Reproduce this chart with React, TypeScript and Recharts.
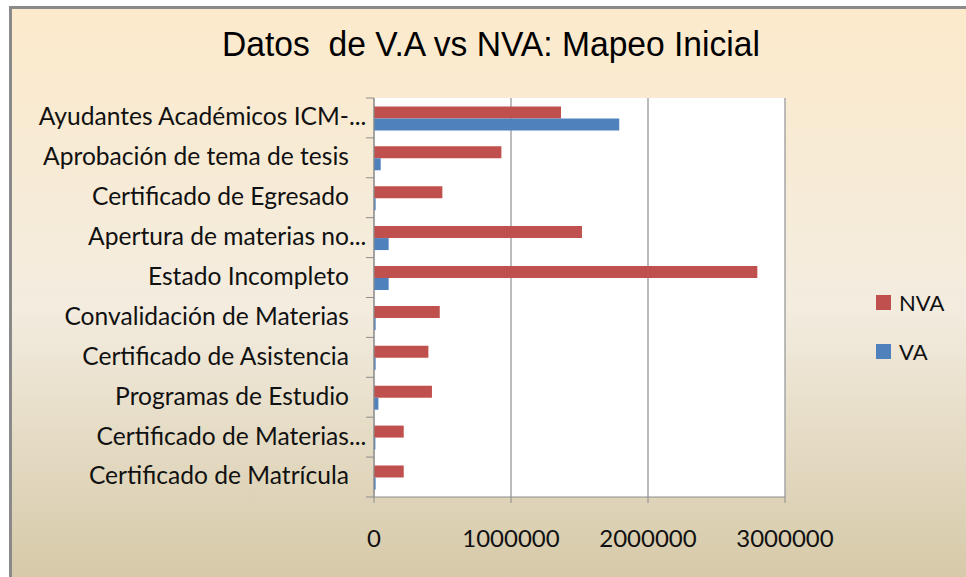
import { BarChart, Bar, XAxis, YAxis, CartesianGrid } from 'recharts';

const categories = [
  'Ayudantes Académicos ICM-...',
  'Aprobación de tema de tesis',
  'Certificado de Egresado',
  'Apertura de materias no...',
  'Estado Incompleto',
  'Convalidación de Materias',
  'Certificado de Asistencia',
  'Programas de Estudio',
  'Certificado de Materias...',
  'Certificado de Matrícula'
];
const nva = [1365000, 930000, 499000, 1518000, 2798000, 480000, 397000, 423000, 217000, 217000];
const va = [1790000, 49000, 12000, 107000, 107000, 12000, 12000, 32000, 10000, 12000];
const xTicks = [0, 1000000, 2000000, 3000000];
const seriesNames = ['NVA', 'VA'];

const W = 966;
const H = 577;
const MARGIN = { top: 98, right: 181, left: 0, bottom: 0 };
const Y_AXIS_W = 374;
const X_AXIS_H = 80;
const BAND = (H - MARGIN.top - X_AXIS_H) / categories.length;
const FONT = 'Lato, "Open Sans", sans-serif';
const COLORS = ['#C0504D', '#4F81BD'];
const AXIS_COLOR = '#8c8c8c';

const rows = categories.map((name, i) => ({ name, NVA: nva[i], VA: va[i] }));

function CategoryTick(props: any) {
  const { x, y, payload, index, visibleTicksCount } = props;
  const label: string = payload.value;
  const cut = label.endsWith('...');
  const main = cut ? label.slice(0, -3) : label;
  const half = BAND / 2;
  const ax = x + 25;
  return (
    <g>
      <line x1={ax - 8} x2={ax} y1={y - half} y2={y - half} stroke={AXIS_COLOR} />
      {index === visibleTicksCount - 1 && (
        <line x1={ax - 8} x2={ax} y1={y + half} y2={y + half} stroke={AXIS_COLOR} />
      )}
      <text x={x} y={y} dy="0.3em" textAnchor="end" fontSize={24.6} fontFamily={FONT} fill="#111">
        {main}
      </text>
      {cut && (
        <text x={x} y={y} dy="0.3em" textAnchor="start" fontSize={24.6} fontFamily={FONT} fill="#111">
          ...
        </text>
      )}
    </g>
  );
}

function LegendBox() {
  return (
    <div style={{ position: 'absolute', left: 876, top: 278, fontFamily: FONT, fontSize: 22, color: '#111' }}>
      {seriesNames.map((label, i) => (
        <div key={label} style={{ display: 'flex', alignItems: 'center', height: 49 }}>
          <span style={{ width: 15, height: 15, background: COLORS[i], marginRight: 8, display: 'inline-block' }} />
          {label}
        </div>
      ))}
    </div>
  );
}

export default function App() {
  return (
    <div style={{ position: 'absolute', left: 0, top: 0, width: W, height: H, overflow: 'hidden', background: '#fff' }}>
      <div
        style={{
          position: 'absolute',
          left: 9,
          top: 6,
          width: W + 20,
          height: H + 20,
          borderLeft: '3px solid #8a8a8a',
          borderTop: '3px solid #8a8a8a',
          background: 'linear-gradient(#FCEACB 0%, #F3ECDF 50%, #D3C6A3 100%)'
        }}
      />
      <div
        style={{
          position: 'absolute',
          left: 0,
          width: 982,
          top: 24,
          textAlign: 'center',
          fontFamily: '"Liberation Sans", Arial, sans-serif',
          fontSize: 35,
          color: '#000',
          transform: 'scaleX(0.96)'
        }}
      >
        Datos&nbsp; de V.A vs NVA: Mapeo Inicial
      </div>
      <div style={{ position: 'absolute', left: 0, top: 0 }}>
        <BarChart
          width={W}
          height={H}
          data={rows}
          layout="vertical"
          margin={MARGIN}
          barCategoryGap="21%"
          barGap={0}
        >
          <CartesianGrid horizontal={false} stroke="#a6a6a6" strokeWidth={1.5} fill="#ffffff" />
          <XAxis
            type="number"
            domain={[0, 3000000]}
            ticks={xTicks}
            height={X_AXIS_H}
            tickSize={6}
            tickMargin={27}
            stroke={AXIS_COLOR}
            tick={{ fontSize: 24, fontFamily: FONT, fill: '#111' }}
            interval={0}
          />
          <YAxis
            type="category"
            dataKey="name"
            width={Y_AXIS_W}
            tickLine={false}
            tickSize={8}
            tickMargin={17}
            stroke={AXIS_COLOR}
            tick={<CategoryTick />}
            interval={0}
          />
          <Bar dataKey="NVA" fill={COLORS[0]} isAnimationActive={false} />
          <Bar dataKey="VA" fill={COLORS[1]} isAnimationActive={false} />
        </BarChart>
      </div>
      <LegendBox />
    </div>
  );
}
